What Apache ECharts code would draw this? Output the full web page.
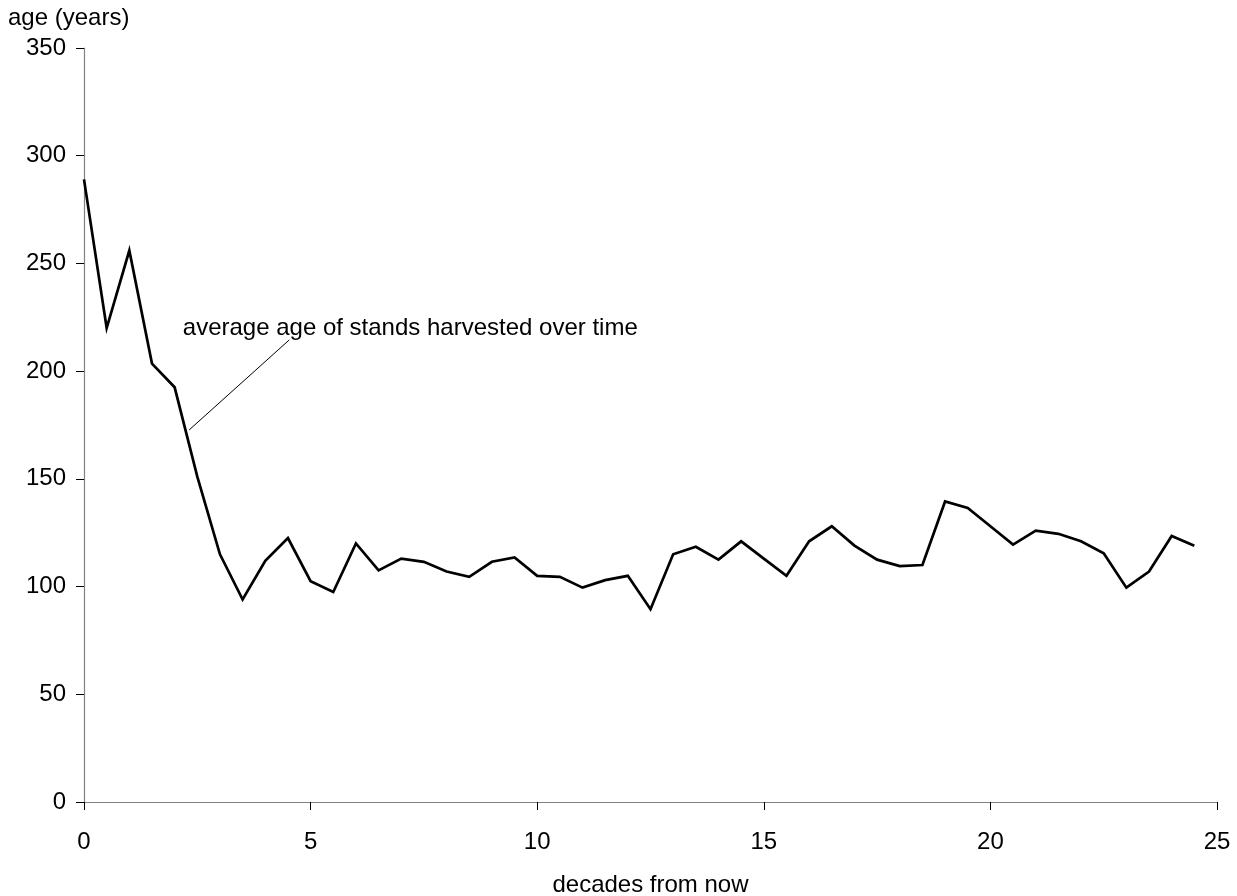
<!DOCTYPE html>
<html>
<head>
<meta charset="utf-8">
<script src="https://cdn.jsdelivr.net/npm/echarts@6/dist/echarts.min.js"></script>
<style>
  html, body { margin: 0; padding: 0; background: #fff; }
  #chart { width: 1237px; height: 896px; }
</style>
</head>
<body>
<div id="chart"></div>
<script>
// Decades from now (half-decade steps)
const decades = [
  0, 0.5, 1, 1.5, 2, 2.5, 3, 3.5, 4, 4.5,
  5, 5.5, 6, 6.5, 7, 7.5, 8, 8.5, 9, 9.5,
  10, 10.5, 11, 11.5, 12, 12.5, 13, 13.5, 14, 14.5,
  15, 15.5, 16, 16.5, 17, 17.5, 18, 18.5, 19, 19.5,
  20, 20.5, 21, 21.5, 22, 22.5, 23, 23.5, 24, 24.5
];

// Average age (years) of stands harvested
const avgAge = [
  289, 220, 256, 203.5, 192.5, 151, 115, 94, 112, 122.5,
  102.5, 97.5, 120, 107.5, 113, 111.5, 107, 104.5, 111.5, 113.5,
  105, 104.5, 99.5, 103, 105, 89.5, 115, 118.5, 112.5, 121,
  113, 105, 121, 128, 119, 112.5, 109.5, 110, 139.5, 136.5,
  128, 119.5, 126, 124.5, 121, 115.5, 99.5, 107, 123.5, 119
];

const yTicks = { min: 0, max: 350, step: 50 };
const xTicks = { min: 0, max: 25, step: 5 };

// Callout: label anchor and leader line ends (data units)
const calloutText = 'average age of stands harvested over time';
const calloutAnchor = [2.18, 220];
const leaderLine = [[2.32, 172.7], [4.53, 214.5]];

const font = 'Liberation Sans, Arial, sans-serif';
const axisGray = '#808080';

const chart = echarts.init(document.getElementById('chart'), null, { renderer: 'canvas' });

chart.setOption({
  backgroundColor: '#ffffff',
  animation: false,
  title: {
    text: 'age (years)',
    left: 8,
    top: 6,
    padding: 0,
    textStyle: { fontFamily: font, fontSize: 24, fontWeight: 'normal', color: '#000' }
  },
  grid: {
    left: 84, right: 20, top: 48, bottom: 94,
    containLabel: false,
    outerBoundsMode: 'none'
  },
  xAxis: {
    type: 'value',
    min: xTicks.min,
    max: xTicks.max,
    interval: xTicks.step,
    name: 'decades from now',
    nameLocation: 'middle',
    nameGap: 71,
    nameTextStyle: { fontFamily: font, fontSize: 24, color: '#000' },
    axisLine: { show: true, onZero: false, lineStyle: { color: axisGray, width: 1.2 } },
    axisTick: { show: true, inside: false, length: 8, lineStyle: { color: '#000', width: 1 } },
    axisLabel: { margin: 28, fontFamily: font, fontSize: 24, color: '#000' },
    splitLine: { show: false }
  },
  yAxis: {
    type: 'value',
    min: yTicks.min,
    max: yTicks.max,
    interval: yTicks.step,
    axisLine: { show: true, lineStyle: { color: axisGray, width: 1.2 } },
    axisTick: { show: true, inside: false, length: 8, lineStyle: { color: '#000', width: 1 } },
    axisLabel: { margin: 18, fontFamily: font, fontSize: 24, color: '#000' },
    splitLine: { show: false }
  },
  series: [{
    type: 'line',
    data: decades.map((d, i) => [d, avgAge[i]]),
    showSymbol: false,
    symbol: 'none',
    lineStyle: { color: '#000', width: 2.7, join: 'miter' },
    markLine: {
      silent: true,
      symbol: ['none', 'none'],
      label: { show: false },
      lineStyle: { color: '#000', width: 1, type: 'solid' },
      data: [[{ coord: leaderLine[0] }, { coord: leaderLine[1] }]]
    },
    markPoint: {
      silent: true,
      symbol: 'circle',
      symbolSize: 0,
      data: [{ coord: calloutAnchor }],
      label: {
        show: true,
        position: 'inside',
        align: 'left',
        verticalAlign: 'middle',
        formatter: calloutText,
        fontFamily: font,
        fontSize: 24,
        color: '#000'
      }
    }
  }]
});
</script>
</body>
</html>
